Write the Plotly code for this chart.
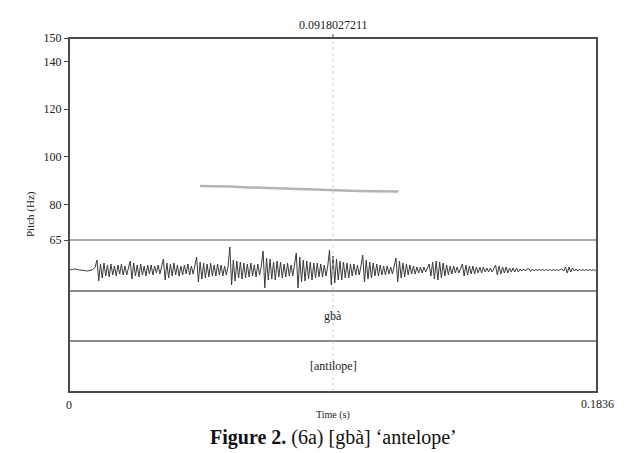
import numpy as np
import plotly.graph_objects as go

# ---------------- data ----------------
t_end = 0.1836
cursor_t = 0.0918027211

pitch_ticks = [65, 80, 100, 120, 140, 150]

pitch_t = [0.0456, 0.0506, 0.0556, 0.0606, 0.0656, 0.0706, 0.0756, 0.0806,
           0.0856, 0.0906, 0.0956, 0.1006, 0.1056, 0.1106, 0.1146]
pitch_hz = [87.7, 87.7, 87.5, 87.2, 87.0, 86.8, 86.6, 86.3,
            86.0, 85.7, 85.6, 85.6, 85.5, 85.4, 85.4]

# waveform amplitude (arbitrary units), uniformly sampled over the sound
wave_amp = [
    0, 0, 0.5, 1, 1, 0.5, 0, 0, 0, -0.5, -1, -1, -0.5, 0, 1, 3,
    10, -11, 6, -8, 7, -6, 5, -7, 6, -5, 4, -6, 5, -4, 6, -5, 4, -5, 3,
    9, -9, 7, -6, 5, -7, 6, -5, 4, -6, 5, -4, 5, -5, 4, -3, 5, -4, 3,
    11, -10, 7, -8, 6, -6, 7, -5, 5, -6, 4, -5, 5, -4, 6, -5, 4, -4, 3,
    13, -12, 8, -9, 7, -8, 6, -7, 7, -6, 5, -6, 6, -5, 5, -6, 4, -5, 4,
    23, -15, 10, -11, 9, -8, 8, -9, 7, -8, 6, -7, 7, -6, 5, -7, 6, -5, 4,
    19, -18, 12, -10, 11, -9, 8, -10, 9, -7, 8, -8, 6, -7, 7, -6, 5, -6, 4,
    17, -18, 13, -12, 10, -11, 9, -9, 8, -10, 7, -8, 7, -7, 6, -7, 5, -6, 4,
    20, -15, 14, -13, 11, -10, 9, -10, 8, -8, 7, -8, 6, -6, 6, -5, 5, -5, 4,
    15, -12, 10, -9, 8, -8, 7, -6, 6, -6, 5, -5, 4, -5, 4, -4, 3, -4, 3,
    12, -12, 9, -8, 7, -7, 6, -5, 5, -4, 4, -4, 3, -3, 3, -3, 3, -2, 2,
    6, -6, 8, -9, 9, -10, 8, -8, 7, -6, 5, -5, 4, -4, 4, -3, 3, -3, 2,
    6, -6, 5, -5, 4, -4, 4, -4, 3, -3, 3, -3, 3, -2, 2, -2, 2, -2, 2,
    5, -5, 4, -4, 3, -3, 3, -3, 2, -2, 2, -2, 2, -2, 1, -1, 1, -1, 1,
    1.5, -1.5, 1, -1, 1, -1, 1, -0.5, 0.5, -0.5, 0.5, -0.5, 0.5, -0.5, 0.5, -0.5, 0.5, -0.5, 0.5,
    1, -1, 3, -3, 3, -2, 2, -1, 1, -1, 0.5, -0.5, 0.5, -0.5, 0.5, -0.5, 0.5, -0.5, 0.5, -0.5, 0,
]
wave_t = np.linspace(0, t_end, len(wave_amp))

tier1_label = "gbà"
tier2_label = "[antilope]"
caption = "<b>Figure 2.</b> (6a) [gbà] ‘antelope’"

# ---------------- layout geometry ----------------
W, H = 630, 453
OFF = 8  # page body margin
X0, X1, Y0, Y1 = 69, 597, 38, 392
L = X0 - OFF
T = Y0 - OFF
R = W - (X1 - OFF)
B = H - (Y1 - OFF)
ph = Y1 - Y0
pw = X1 - X0
def py(px):
    return (Y1 - px) / ph
def px_x(px):
    return (px - X0) / pw

y_pitch_bottom = py(240)
y_wave_bottom = py(291)
y_tier_split = py(341)

SERIF = "Liberation Serif, Times New Roman, serif"

fig = go.Figure()
fig.add_trace(go.Scatter(x=wave_t, y=wave_amp, mode="lines",
                         line=dict(color="#3a3a3a", width=1),
                         xaxis="x", yaxis="y2", hoverinfo="skip"))
fig.add_trace(go.Scatter(x=pitch_t, y=pitch_hz, mode="lines",
                         line=dict(color="#b4b4b4", width=2.5),
                         xaxis="x", yaxis="y", hoverinfo="skip"))

fig.update_layout(
    width=W, height=H, margin=dict(l=L, r=R, t=T, b=B),
    paper_bgcolor="white", plot_bgcolor="white", showlegend=False,
    font=dict(family=SERIF, size=12, color="#222"),
    xaxis=dict(range=[0, t_end], showgrid=False, zeroline=False,
               showticklabels=False, ticks="", showline=False,
               anchor="y2", domain=[0, 1]),
    yaxis=dict(range=[65, 150], domain=[y_pitch_bottom, 1],
               tickvals=pitch_ticks, ticks="outside", ticklen=4,
               tickcolor="#444", tickwidth=1, showgrid=False,
               zeroline=False, showline=False,
               tickfont=dict(family=SERIF, size=12, color="#222"),
               anchor="x"),
    yaxis2=dict(range=[-21, 30], domain=[y_wave_bottom, y_pitch_bottom],
                showgrid=False, zeroline=False, showticklabels=False,
                ticks="", showline=False, anchor="x"),
)

shapes = []
shapes.append(dict(type="line", xref="paper", yref="paper", x0=0, x1=1,
                   y0=y_pitch_bottom, y1=y_pitch_bottom,
                   line=dict(color="#a8a8a8", width=2)))
for yy in (y_wave_bottom, y_tier_split):
    shapes.append(dict(type="line", xref="paper", yref="paper", x0=0, x1=1,
                       y0=yy, y1=yy, line=dict(color="#8a8a8a", width=2)))
shapes.append(dict(type="line", xref="x", yref="paper", x0=cursor_t, x1=cursor_t,
                   y0=0, y1=1, line=dict(color="#cfcfcf", width=1, dash="dot")))
shapes.append(dict(type="line", xref="x", yref="paper", x0=cursor_t, x1=cursor_t,
                   y0=1, y1=1 + 4 / ph, line=dict(color="#444", width=1)))
shapes.append(dict(type="rect", xref="paper", yref="paper", x0=0, x1=1, y0=0, y1=1,
                   line=dict(color="#4a4a4a", width=2)))
fig.update_layout(shapes=shapes)

def txt(x, xref, ypx, text, size=12, **kw):
    color = kw.pop("color", "#222")
    return dict(x=x, xref=xref, y=py(ypx), yref="paper", text=text, showarrow=False,
                xanchor="center", yanchor="middle",
                font=dict(family=SERIF, size=size, color=color), **kw)

ann = [
    txt(cursor_t, "x", 25, f"{cursor_t:.10f}"),
    txt(cursor_t, "x", 316, tier1_label),
    txt(cursor_t, "x", 366, tier2_label),
    txt(0, "x", 405, "0"),
    txt(t_end, "x", 404, f"{t_end}"),
    txt(cursor_t, "x", 415, "Time (s)", size=10),
    txt(px_x(30), "paper", 214, "Pitch (Hz)", size=11, textangle=-90),
    txt(cursor_t, "x", 437, caption, size=20, color="#111"),
]
fig.update_layout(annotations=ann)

fig.write_html("out.html")
